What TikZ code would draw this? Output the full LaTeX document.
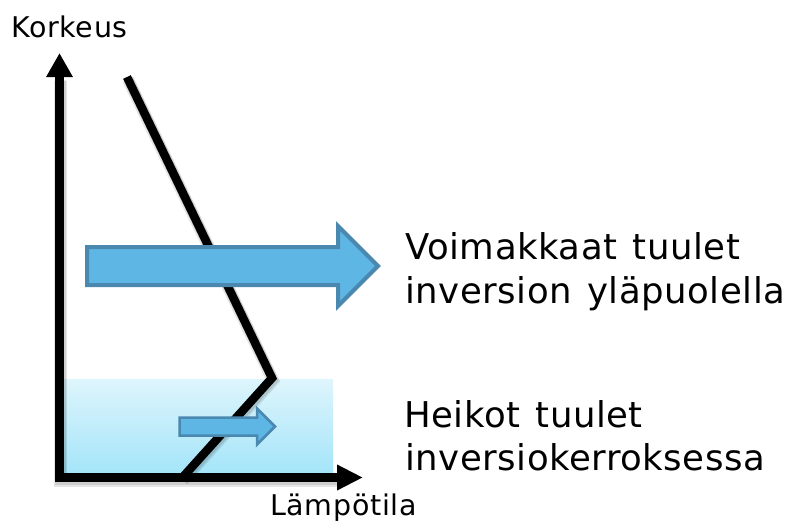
\documentclass[tikz,border=0pt]{standalone}
\usepackage{fontspec}
\setmainfont{DejaVu Sans}
\newfontfamily\labelfont[LetterSpace=1.5, WordSpace=1.3]{DejaVu Sans}
\newfontfamily\axisfont[LetterSpace=2.5]{DejaVu Sans}
\usetikzlibrary{arrows.meta}

\definecolor{layertop}{RGB}{222,245,252}
\definecolor{layerbot}{RGB}{162,228,249}
\definecolor{windfill}{RGB}{94,182,229}
\definecolor{windedge}{RGB}{74,136,176}

\tikzset{
  axisline/.style={line width=9.5pt, line join=miter, draw=black},
  profile/.style={line width=8.5pt, line join=miter, draw=black},
  dropshade/.style={draw=black, opacity=0.10, line join=miter},
  wind/.style={fill=windfill, draw=windedge, line join=miter},
  biglabel/.style={anchor=base west, inner sep=0pt, font=\labelfont\fontsize{35.5}{44}\selectfont},
  axislabel/.style={anchor=base west, inner sep=0pt, font=\axisfont\fontsize{28.5}{34}\selectfont}
}

\begin{document}
\begin{tikzpicture}[x=1pt, y=-1pt]
\useasboundingbox (0,0) rectangle (789,523);

% inversion layer near the ground
\shade[top color=layertop, bottom color=layerbot] (63,379) rectangle (333,477);

% temperature profile: falling aloft, rising inside the inversion
\coordinate (ptop) at (127,77);
\coordinate (pbend) at (272,378);
\coordinate (pfoot) at (182,478);
\foreach \w/\d in {12/2.5, 10/1.5}{
  \draw[dropshade, line width=\w pt, transform canvas={shift={(1pt,-\d pt)}}] (ptop) -- (pbend) -- (pfoot);
}
\draw[profile] (ptop) -- (pbend) -- (pfoot);

% axes
\coordinate (ytip) at (59.5,53);
\coordinate (origin) at (59.5,477.5);
\coordinate (xtip) at (363,477.5);
\foreach \w/\d in {13/2.5, 11/1.5}{
  \draw[dropshade, line width=\w pt, transform canvas={shift={(1pt,-\d pt)}}] (59.5,78) -- (origin) -- (338,477.5);
}
\draw[axisline, {Triangle[length=24pt,width=25pt]}-{Triangle[length=26pt,width=24pt]}]
  (ytip) -- (origin) -- (xtip);

% wind arrows
\draw[wind, line width=4pt]
  (87,247) -- (338,247) -- (338,226) -- (378,266) -- (338,306) -- (338,285) -- (87,285) -- cycle;
\draw[wind, line width=2.5pt]
  (179.5,417.5) -- (257,417.5) -- (257,408.5) -- (275,426.5) -- (257,444.5) -- (257,435.5) -- (179.5,435.5) -- cycle;

% labels
\node[axislabel] (ylab) at (11,37) {Korkeus};
\node[axislabel] (xlab) at (270,515.5) {Lämpötila};
\node[biglabel] (strong1) at (405,259) {Voimakkaat tuulet};
\node[biglabel] (strong2) at (405,303) {inversion yläpuolella};
\node[biglabel] (weak1) at (404,427) {Heikot tuulet};
\node[biglabel] (weak2) at (405,470) {inversiokerroksessa};
\end{tikzpicture}
\end{document}
